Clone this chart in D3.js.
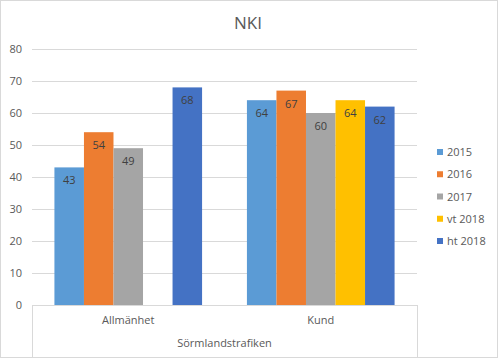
<!DOCTYPE html>
<html><head><meta charset="utf-8">
<script src="https://cdn.jsdelivr.net/npm/d3@7"></script>
<style>body{margin:0;background:#fff}svg{display:block;font-family:"Segoe UI","Open Sans","Noto Sans",sans-serif}</style>
</head><body><svg id="c" width="499" height="359"></svg>
<script>
const categories = ["Allmänhet", "Kund"];
const groupLabel = "Sörmlandstrafiken";
const seriesNames = ["2015", "2016", "2017", "vt 2018", "ht 2018"];
const s2015 = [43, 64];
const s2016 = [54, 67];
const s2017 = [49, 60];
const sVt2018 = [null, 64];
const sHt2018 = [68, 62];
const yTicks = [0, 10, 20, 30, 40, 50, 60, 70, 80];
const colors = ["#5B9BD5", "#ED7D31", "#A5A5A5", "#FFC000", "#4472C4"];
const seriesValues = [s2015, s2016, s2017, sVt2018, sHt2018];

const svg = d3.select("#c");
svg.append("rect").attr("x",0.5).attr("y",0.5).attr("width",497).attr("height",357)
  .attr("fill","#fff").attr("stroke","#d9d9d9");

const mLeft = 32, mRight = 417, mTop = 49, mBottom = 305;
const y = d3.scaleLinear().domain([0, 80]).range([mBottom, mTop]);
const x0 = d3.scaleBand().domain(categories).range([mLeft, mRight]).paddingInner(0.233).paddingOuter(0.1165);
const x1 = d3.scaleBand().domain(seriesNames).range([0, x0.bandwidth()]);

svg.append("text").attr("x", 248).attr("y", 29).attr("text-anchor","middle")
  .attr("font-size", 17).attr("fill", "#595959").text("NKI");

// gridlines
svg.append("g").selectAll("line").data(yTicks.filter(d=>d>0)).join("line")
  .attr("x1", mLeft).attr("x2", mRight).attr("y1", d=>Math.round(y(d))+0.5).attr("y2", d=>Math.round(y(d))+0.5)
  .attr("stroke", "#d9d9d9");

// y axis labels
svg.append("g").selectAll("text").data(yTicks).join("text")
  .attr("x", 22).attr("y", d=>y(d)+4).attr("text-anchor","end")
  .attr("font-size", 11).attr("fill","#595959").text(d=>d);

// bars
const g = svg.append("g");
seriesNames.forEach((s, si) => {
  categories.forEach((c, ci) => {
    const v = seriesValues[si][ci];
    if (v == null) return;
    const bx = x0(c) + x1(s);
    g.append("rect").attr("x", bx).attr("y", y(v)).attr("width", x1.bandwidth()).attr("height", y(0)-y(v))
      .attr("fill", colors[si]);
    g.append("text").attr("x", bx + x1.bandwidth()/2).attr("y", y(v)+17).attr("text-anchor","middle")
      .attr("font-size", 11).attr("fill","#404040").text(v);
  });
});

// category axis
const ax = svg.append("g").attr("stroke","#d9d9d9").attr("fill","none");
ax.append("line").attr("x1", mLeft).attr("x2", mRight).attr("y1", mBottom+0.5).attr("y2", mBottom+0.5);
ax.append("line").attr("x1", mLeft+0.5).attr("x2", mLeft+0.5).attr("y1", mBottom).attr("y2", 357);
ax.append("line").attr("x1", mRight+0.5).attr("x2", mRight+0.5).attr("y1", mBottom).attr("y2", 357);

const xCenter = d3.scaleBand().domain(categories).range([mLeft, mRight]);
svg.append("g").selectAll("text").data(categories).join("text")
  .attr("x", d=>xCenter(d)+xCenter.bandwidth()/2).attr("y", 324).attr("text-anchor","middle")
  .attr("font-size", 11).attr("fill","#595959").text(d=>d);
svg.append("text").attr("x", (mLeft+mRight)/2).attr("y", 347).attr("text-anchor","middle")
  .attr("font-size", 11).attr("fill","#595959").text(groupLabel);

// legend
const leg = svg.append("g");
const ly = d3.scalePoint().domain(seriesNames).range([152, 241]);
seriesNames.forEach((s, i) => {
  leg.append("rect").attr("x", 437).attr("y", ly(s)-3).attr("width", 6).attr("height", 6).attr("fill", colors[i]);
  leg.append("text").attr("x", 447).attr("y", ly(s)+4).attr("font-size", 11).attr("fill","#595959").text(s);
});
</script></body></html>
